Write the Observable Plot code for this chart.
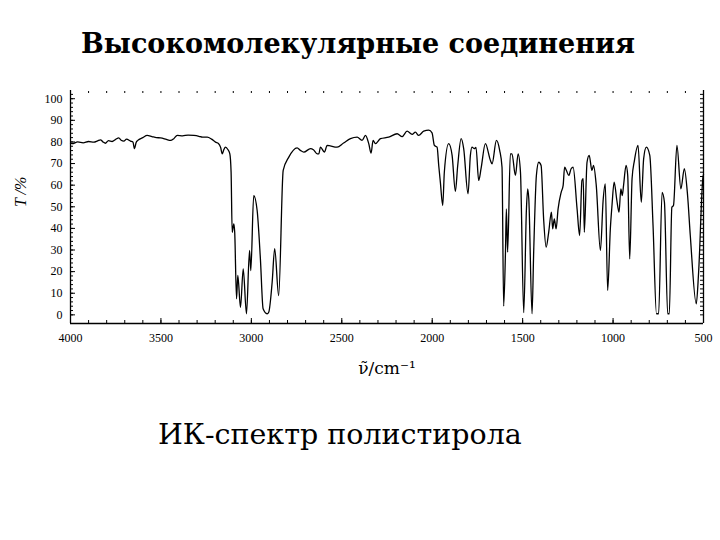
<!DOCTYPE html>
<html><head><meta charset="utf-8">
<script src="https://cdn.jsdelivr.net/npm/d3@7"></script>
<script src="https://cdn.jsdelivr.net/npm/@observablehq/plot@0.6"></script>
<style>
body{margin:0;background:#fff;width:720px;height:540px;position:relative;overflow:hidden}
#title{position:absolute;top:28px;left:0;width:716px;text-align:center;font:bold 27px "DejaVu Serif";color:#000}
#chart{position:absolute;top:80px;left:0}
#caption{position:absolute;top:418px;left:158px;font:28.5px "DejaVu Serif";color:#000}
</style></head><body>
<div id="title"></div>
<div id="chart"></div>
<div id="caption"></div>
<script>
const titleText = "Высокомолекулярные соединения";
const captionText = "ИК-спектр полистирола";
const yLabel = "T /%";
const xLabel = "ν\u0303/cm\u207B\u00B9";

const wavenumbers = [4000,3991,3960,3930,3900,3871,3850,3834,3820,3807,3790,3770,3750,3733,3720,3705,3690,3668,3655,3646,3638,3628,3600,3576,3550,3525,3502,3470,3447,3429,3410,3380,3350,3318,3290,3270,3244,3220,3198,3182,3170,3161,3152,3143,3130,3119,3112,3106,3097,3092,3082,3075,3060,3045,3027,3010,3003,2987,2968,2950,2935,2913,2904,2885,2871,2849,2824,2793,2747,2729,2710,2673,2657,2636,2627,2618,2596,2581,2526,2490,2452,2415,2388,2369,2351,2338,2327,2314,2286,2241,2194,2166,2139,2111,2093,2075,2047,2019,2001,1988,1973,1964,1955,1942,1933,1909,1890,1872,1859,1840,1826,1802,1789,1780,1767,1758,1743,1730,1706,1678,1669,1645,1627,1614,1605,1595,1590,1583,1568,1559,1540,1525,1512,1494,1479,1472,1466,1448,1439,1424,1411,1398,1384,1370,1356,1341,1334,1325,1315,1304,1287,1276,1268,1258,1245,1232,1221,1199,1185,1172,1165,1159,1144,1132,1117,1108,1093,1070,1055,1043,1030,1015,1006,994,979,967,957,949,942,928,919,908,895,882,862,844,831,816,797,779,760,748,729,716,698,689,675,666,647,625,606,588,573,540,527,503,500];
const transmittance = [79.5,79.2,80.0,79.6,80.2,79.9,80.5,81.0,80.0,79.4,80.6,80.2,81.2,81.9,80.8,80.4,81.3,80.4,80.0,76.9,79.5,80.7,82.0,83.0,82.5,82.0,81.9,81.2,80.7,81.5,83.0,82.8,83.2,83.0,82.6,82.2,82.2,81.3,79.9,79.3,77.5,74.5,76.5,77.6,76.5,74.5,66,38.2,42.1,38.2,7.4,18.2,3.5,21.3,0.5,29.8,20.5,55.2,48.3,25.9,2.8,0.5,1.2,15.1,30.6,8.9,66.8,73,77.3,76.1,75.3,76.9,76.4,74.5,74.5,77.6,75.3,78.4,77.6,79.5,81.5,82.2,80.7,83.0,79.2,74.8,80.7,79.2,81.5,82.2,83.8,82.5,85.0,83.5,84.5,83.0,85.0,85.5,84.2,78.4,77.6,69.1,61.4,50.6,66,79.2,73.8,57.1,69.1,81.5,76.9,56,73.8,77.6,76.9,77.5,62.2,67.6,79.2,71.4,69.9,80.7,76.1,68.3,4.0,29,49,29,74.5,74.5,64.5,74.5,66,1.0,49,58.3,53.7,0.5,29,64.5,70.6,69.1,44.4,31.3,38.2,47.5,39.8,44.4,39.8,49,56.7,59.9,68.3,66.8,64.5,67.6,68.3,49,36.7,62.2,63,38.2,70.6,73.8,66.8,69.1,59.9,29.8,52.9,60.6,11.3,40,50.6,61.4,52.9,47.5,58.3,55.2,59.9,69.1,64.5,25.9,63,71.4,78.4,52.1,72.2,77.6,73.8,41.3,0.5,0.5,56.7,52.1,0.5,0.5,49.8,50.6,78.4,58.3,67.6,55.2,36.7,5.1,19.7,63.7,65];

const yTicks = [0,10,20,30,40,50,60,70,80,90,100];
const yMinor = d3.range(0, 103, 2);
const xTicks = [4000,3500,3000,2500,2000,1500,1000,500];
const xMinor = d3.range(500, 4001, 100);
const xEdges = [4000, 500];
const yBottom = [-4];

const spectrum = wavenumbers.map((w, i) => ({w, t: transmittance[i]}));
const noText = () => "";
const plain = d => String(d);

const chart = Plot.plot({
  width: 720, height: 310,
  marginLeft: 70, marginRight: 17, marginTop: 10, marginBottom: 67,
  style: {fontFamily: "Liberation Serif", fontSize: "12px", color: "#000", background: "#fff"},
  x: {domain: [4000, 500]},
  y: {domain: [-4, 103.8]},
  marks: [
    Plot.ruleX(xEdges, {stroke: "#000", strokeWidth: 1.3}),
    Plot.ruleY(yBottom, {stroke: "#000", strokeWidth: 1.3}),
    Plot.axisY(yMinor, {anchor: "left", tickSize: -3, tickFormat: noText, label: null}),
    Plot.axisY(yTicks, {anchor: "left", tickSize: -5, tickFormat: noText, label: null}),
    Plot.axisY(yTicks, {anchor: "left", tickSize: 0, tickPadding: 8, tickFormat: plain, label: null}),
    Plot.axisY(yMinor, {anchor: "right", tickSize: -4, tickFormat: noText, label: null}),
    Plot.axisX(xMinor, {anchor: "bottom", tickSize: -3, tickFormat: noText, label: null}),
    Plot.axisX(xTicks, {anchor: "bottom", tickSize: -5, tickFormat: noText, label: null}),
    Plot.axisX(xTicks, {anchor: "bottom", tickSize: 0, tickPadding: 10, tickFormat: plain, label: null}),
    Plot.axisX(xMinor, {anchor: "top", tickSize: -2, tickFormat: noText, label: null}),
    Plot.line(spectrum, {x: "w", y: "t", stroke: "#000", strokeWidth: 1.3, curve: "monotone-x"}),
    Plot.text([yLabel], {text: d => d, frameAnchor: "left", dx: -50, rotate: -90, fontStyle: "italic", fontSize: 16, fill: "#000"}),
    Plot.text([xLabel], {text: d => d, frameAnchor: "bottom", dy: 50, fontSize: 17, fill: "#000", fontFamily: "DejaVu Serif"})
  ]
});
document.getElementById("chart").appendChild(chart);
document.getElementById("title").textContent = titleText;
document.getElementById("caption").textContent = captionText;
</script>
</body></html>
